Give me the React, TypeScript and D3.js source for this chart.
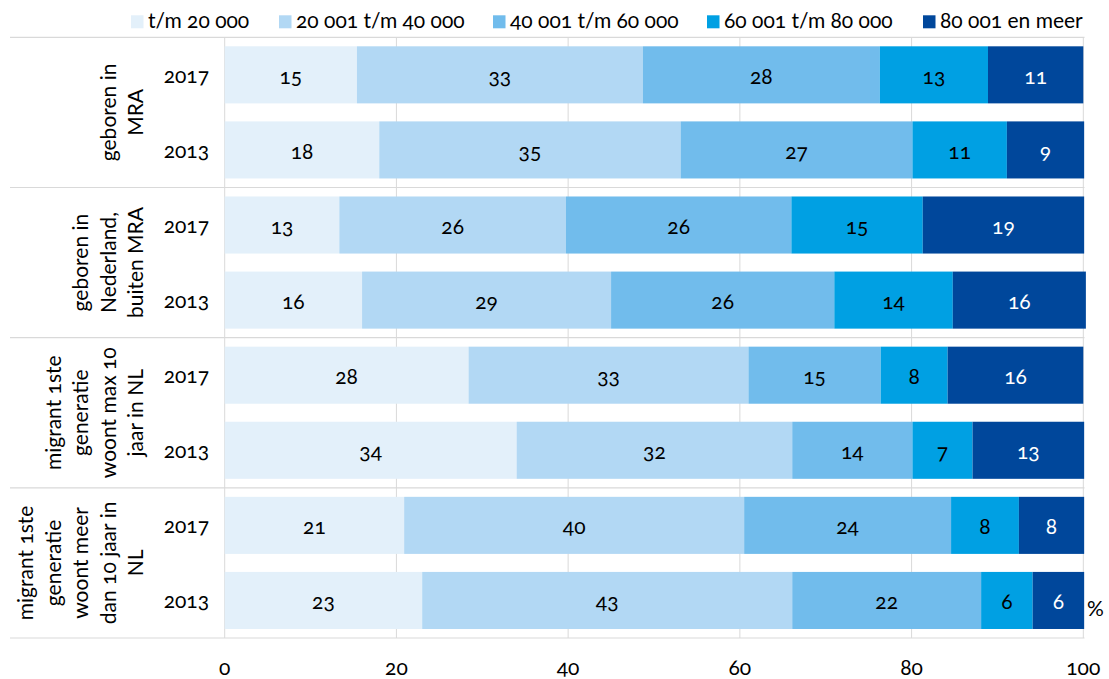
import React from "react";
import * as d3 from "d3";

// ---- data ----
const seriesNames = ["t/m 20 000", "20 001 t/m 40 000", "40 001 t/m 60 000", "60 001 t/m 80 000", "80 001 en meer"];
const groups = [
  ["geboren in", "MRA"],
  ["geboren in", "Nederland,", "buiten MRA"],
  ["migrant 1ste", "generatie", "woont max 10", "jaar in NL"],
  ["migrant 1ste", "generatie", "woont meer", "dan 10 jaar in", "NL"],
];
const years = ["2017", "2013"];
// one value per bar, order: group1 2017, group1 2013, group2 2017, ...
const tm20000 = [15.4, 18.0, 13.35, 16.0, 28.4, 34.0, 20.9, 23.0];
const tm40000 = [33.3, 35.1, 26.4, 29.0, 32.6, 32.1, 39.6, 43.1];
const tm60000 = [27.6, 27.0, 26.25, 26.0, 15.4, 14.0, 24.1, 22.0];
const tm80000 = [12.6, 11.0, 15.3, 13.8, 7.8, 7.0, 7.9, 6.0];
const meer80000 = [11.1, 9.0, 18.8, 15.5, 15.8, 13.0, 7.6, 6.0];
const xTicks = [0, 20, 40, 60, 80, 100];

const colors = ["#e3f0fa", "#b2d8f4", "#71bcec", "#00a0e3", "#00479b"];
const FONT = "Lato, 'Noto Sans', sans-serif";

export default function App() {
  const W = 1109, H = 679;
  const x0 = 224.7, x1 = 1083.3, yTop = 37.3, yBot = 638;
  const keys = ["s0", "s1", "s2", "s3", "s4"];
  const cols = [tm20000, tm40000, tm60000, tm80000, meer80000];
  const rows = tm20000.map((_, i) => {
    const r: any = { i };
    keys.forEach((k, j) => (r[k] = cols[j][i]));
    return r;
  });
  const stack = d3.stack<any>().keys(keys)(rows);
  const x = d3.scaleLinear().domain([0, 100]).range([x0, x1]);
  const y = d3
    .scaleBand<number>()
    .domain(rows.map((r) => r.i))
    .range([yTop, yBot])
    .paddingInner(0.24)
    .paddingOuter(0.12);
  const groupH = (yBot - yTop) / groups.length;
  const legendX = [131, 279, 493, 707, 923];
  const lineGap = 27.5;
  const FS = 21;
  const numStyle: any = { fontVariantNumeric: "oldstyle-nums" };

  return (
    <svg
      width={W}
      height={H}
      style={{ position: "absolute", left: 0, top: 0, display: "block", background: "#fff" }}
      fontFamily={FONT}
    >
      {/* legend */}
      {seriesNames.map((n, i) => (
        <g key={n}>
          <rect x={legendX[i]} y={15.3} width={12.5} height={13} fill={colors[i]} />
          <text x={legendX[i] + 17} y={28.3} fontSize={FS} fill="#000" style={numStyle}>
            {n}
          </text>
        </g>
      ))}
      {/* gridlines */}
      {xTicks.map((t) => (
        <line key={t} x1={x(t)} x2={x(t)} y1={yTop} y2={yBot} stroke="#d9d9d9" strokeWidth={1} />
      ))}
      {/* group separators */}
      {d3.range(groups.length + 1).map((g) => (
        <line
          key={g}
          x1={10}
          x2={1084.5}
          y1={yTop + g * groupH}
          y2={yTop + g * groupH}
          stroke="#d9d9d9"
          strokeWidth={1.2}
        />
      ))}
      {/* bars */}
      {stack.map((s, j) => (
        <g key={s.key} fill={colors[j]}>
          {s.map((d: any, i: number) => (
            <rect key={i} x={x(d[0])} y={y(i)} width={x(d[1]) - x(d[0])} height={y.bandwidth()} />
          ))}
        </g>
      ))}
      {/* data labels */}
      {stack.map((s, j) => (
        <g key={"l" + s.key}>
          {s.map((d: any, i: number) => (
            <text
              key={i}
              x={(x(d[0]) + x(d[1])) / 2}
              y={(y(i) as number) + y.bandwidth() / 2 + 9}
              textAnchor="middle"
              fontSize={FS}
              fill={j === 4 ? "#fff" : "#000"}
              style={numStyle}
            >
              {Math.round(d[1] - d[0])}
            </text>
          ))}
        </g>
      ))}
      {/* year labels */}
      {rows.map((r) => (
        <text
          key={"y" + r.i}
          x={209}
          y={(y(r.i) as number) + y.bandwidth() / 2 + 8}
          textAnchor="end"
          fontSize={FS}
          fill="#000"
          style={numStyle}
        >
          {years[r.i % 2]}
        </text>
      ))}
      {/* group labels */}
      {groups.map((lines, g) => {
        const cy = yTop + (g + 0.5) * groupH;
        return (
          <g key={"g" + g}>
            {lines.map((ln, k) => {
              const bx = 143 - (lines.length - 1 - k) * lineGap;
              return (
                <text
                  key={k}
                  transform={`translate(${bx},${cy}) rotate(-90)`}
                  textAnchor="middle"
                  fontSize={FS}
                  fill="#000"
                  style={numStyle}
                >
                  {ln}
                </text>
              );
            })}
          </g>
        );
      })}
      {/* x axis tick labels */}
      {xTicks.map((t) => (
        <text key={"t" + t} x={x(t)} y={675} textAnchor="middle" fontSize={FS} fill="#000" style={numStyle}>
          {t}
        </text>
      ))}
      <text x={1087} y={616} fontSize={FS} fill="#000">
        %
      </text>
    </svg>
  );
}
